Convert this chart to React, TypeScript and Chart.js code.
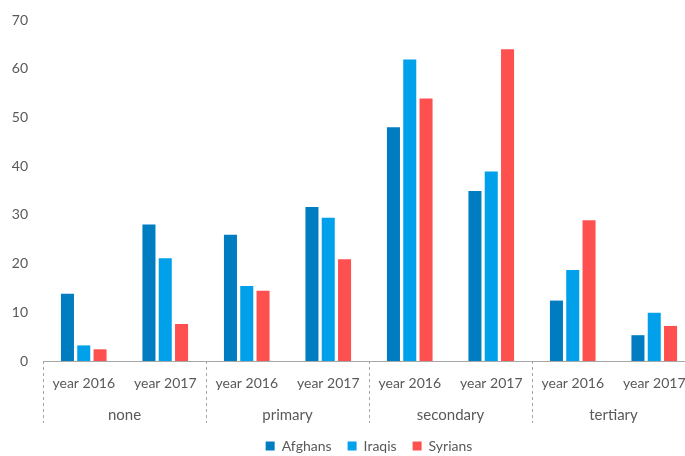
import { useEffect, useRef } from "react";
import { Chart, registerables } from "chart.js";

Chart.register(...registerables);

// Education level by year and nationality (%)
const yearLabels = ["year 2016", "year 2017", "year 2016", "year 2017", "year 2016", "year 2017", "year 2016", "year 2017"];
const levelLabels = ["none", "primary", "secondary", "tertiary"];
const afghans = [13.8, 28, 25.9, 31.6, 48, 34.9, 12.4, 5.3];
const iraqis = [3.2, 21.1, 15.4, 29.4, 61.9, 38.9, 18.7, 9.9];
const syrians = [2.4, 7.6, 14.4, 20.9, 53.9, 64, 28.9, 7.2];

const FONT = "Lato, 'Open Sans', sans-serif";
const TEXT = "#595959";
const DIVIDER = "#a6a6a6";

// Dashed separators between education levels, spanning both label rows
const levelDividers = {
  id: "levelDividers",
  afterDraw(chart: any) {
    const x = chart.scales.x;
    const x2 = chart.scales.x2;
    const ctx = chart.ctx;
    ctx.save();
    ctx.strokeStyle = DIVIDER;
    ctx.lineWidth = 1;
    ctx.setLineDash([3, 3]);
    const perLevel = yearLabels.length / levelLabels.length;
    for (let i = 0; i <= levelLabels.length; i++) {
      const px = Math.round(x.getPixelForValue(i * perLevel - 0.5)) + 0.5;
      ctx.beginPath();
      ctx.moveTo(px, x.top);
      ctx.lineTo(px, x2.bottom);
      ctx.stroke();
    }
    ctx.restore();
  },
};

export default function App() {
  const ref = useRef<HTMLCanvasElement | null>(null);

  useEffect(() => {
    if (!ref.current) return;
    const chart = new Chart(ref.current, {
      type: "bar",
      data: {
        labels: yearLabels,
        datasets: [
          { label: "Afghans", data: afghans, backgroundColor: "#007dc1" },
          { label: "Iraqis", data: iraqis, backgroundColor: "#00a0ea" },
          { label: "Syrians", data: syrians, backgroundColor: "#ff5050" },
        ],
      },
      options: {
        responsive: false,
        animation: false,
        layout: { padding: { left: 0, right: 5, top: 20, bottom: 0 } },
        datasets: { bar: { categoryPercentage: 0.6, barPercentage: 0.8 } },
        scales: {
          x: {
            type: "category",
            position: "bottom",
            weight: 0,
            afterFit(scale: any) {
              scale.height = 31;
            },
            grid: { display: false, drawTicks: false },
            border: { display: true, color: DIVIDER, dash: [3, 3], width: 1 },
            ticks: { color: TEXT, font: { family: FONT, size: 14 }, padding: 14, maxRotation: 0, autoSkip: false },
          },
          x2: {
            type: "category",
            position: "bottom",
            weight: 1,
            labels: levelLabels,
            offset: true,
            afterFit(scale: any) {
              scale.height = 31;
            },
            grid: { display: false, drawTicks: false },
            border: { display: false },
            ticks: { color: TEXT, font: { family: FONT, size: 15 }, padding: 14, maxRotation: 0, autoSkip: false },
          },
          y: {
            min: 0,
            max: 70,
            afterFit(scale: any) {
              scale.width = 43;
              scale.paddingTop = 0;
              scale.paddingBottom = 0;
            },
            grid: { display: false, drawTicks: false },
            border: { display: false },
            ticks: { stepSize: 10, color: TEXT, font: { family: FONT, size: 14 }, padding: 15 },
          },
        },
        plugins: {
          legend: {
            position: "bottom",
            fullSize: false,
            labels: {
              boxWidth: 9,
              boxHeight: 9,
              padding: 16,
              color: TEXT,
              font: { family: FONT, size: 14 },
            },
          },
          tooltip: { enabled: false },
        },
      },
      plugins: [levelDividers],
    });
    return () => chart.destroy();
  }, []);

  return (
    <div style={{ position: "fixed", left: 0, top: 0, width: 685, height: 456, overflow: "hidden", background: "#fff" }}>
      <canvas ref={ref} width={700} height={463} />
    </div>
  );
}
